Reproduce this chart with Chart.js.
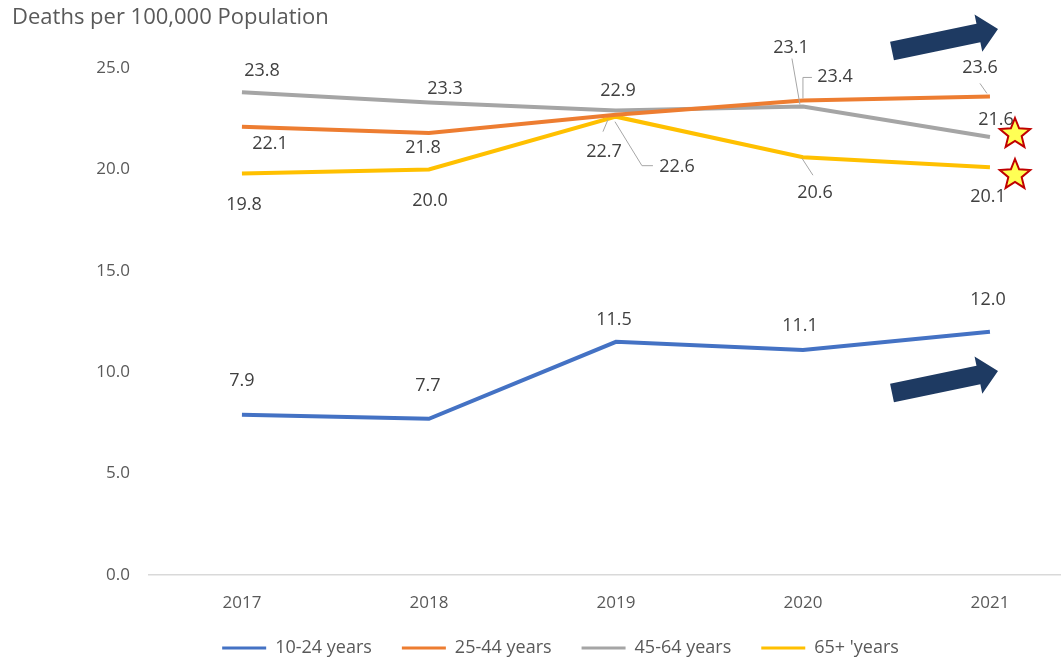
<!DOCTYPE html>
<html lang="en">
<head>
<meta charset="UTF-8">
<title>Deaths per 100,000 Population</title>
<script src="https://cdn.jsdelivr.net/npm/chart.js"></script>
<style>
  body { margin: 0; background: #fff; }
  canvas { display: block; }
</style>
</head>
<body>
<canvas id="chart" width="1061" height="659"></canvas>
<script>
// data
const years = [2017, 2018, 2019, 2020, 2021];
const ages10to24 = [7.9, 7.7, 11.5, 11.1, 12.0];
const ages25to44 = [22.1, 21.8, 22.7, 23.4, 23.6];
const ages45to64 = [23.8, 23.3, 22.9, 23.1, 21.6];
const ages65plus = [19.8, 20.0, 22.6, 20.6, 20.1];
const seriesNames = ['10-24 years', '25-44 years', '45-64 years', "65+ 'years"];
const yTicks = [0, 5, 10, 15, 20, 25];
const yTitle = 'Deaths per 100,000 Population';

const colors = ['#4472c4', '#ed7d31', '#a5a5a5', '#ffc000'];
const allSeries = [ages10to24, ages25to44, ages45to64, ages65plus];

// where each value label sits, relative to its point (px)
const labelOffsets = [
  [[0, -34], [-1, -33], [-2, -22], [-3, -24], [-2, -32]],
  [[28, 17], [-6, 15], [-12, 37], [32, -24], [-10, -29]],
  [[20, -21], [16, -14], [2, -20], [-12, -59], [6, -17]],
  [[2, 31], [1, 31], [61, 50], [12, 36], [-2, 30]]
];
// small leader lines, relative to the point
const leaders = [
  { ds: 1, i: 2, path: [[-8, 5], [-13, 17]] },
  { ds: 3, i: 2, path: [[-1, 5], [26, 49], [37, 49]] },
  { ds: 2, i: 3, path: [[-11, -48], [-3, -2]] },
  { ds: 1, i: 3, path: [[0, -2], [0, -23], [9, -23]] },
  { ds: 3, i: 3, path: [[-1, 1], [10, 18]] },
  { ds: 1, i: 4, path: [[-10, -13], [-3, -3]] }
];

function drawArrow(ctx, x0, y0, x1, y1, shaft, headW, headL) {
  const len = Math.hypot(x1 - x0, y1 - y0);
  const ux = (x1 - x0) / len, uy = (y1 - y0) / len;
  const nx = -uy, ny = ux;
  const bx = x1 - ux * headL, by = y1 - uy * headL;
  ctx.beginPath();
  ctx.moveTo(x0 + nx * shaft / 2, y0 + ny * shaft / 2);
  ctx.lineTo(bx + nx * shaft / 2, by + ny * shaft / 2);
  ctx.lineTo(bx + nx * headW / 2, by + ny * headW / 2);
  ctx.lineTo(x1, y1);
  ctx.lineTo(bx - nx * headW / 2, by - ny * headW / 2);
  ctx.lineTo(bx - nx * shaft / 2, by - ny * shaft / 2);
  ctx.lineTo(x0 - nx * shaft / 2, y0 - ny * shaft / 2);
  ctx.closePath();
  ctx.fill();
}

function drawStar(ctx, cx, cy, R, r) {
  ctx.beginPath();
  for (let k = 0; k < 10; k++) {
    const a = -Math.PI / 2 + k * Math.PI / 5;
    const rad = k % 2 ? r : R;
    const px = cx + Math.cos(a) * rad, py = cy + Math.sin(a) * rad;
    k ? ctx.lineTo(px, py) : ctx.moveTo(px, py);
  }
  ctx.closePath();
  ctx.fill();
  ctx.stroke();
}

const overlay = {
  id: 'overlay',
  afterDatasetsDraw(chart) {
    const ctx = chart.ctx;
    ctx.save();

    // leader lines
    ctx.strokeStyle = '#a6a6a6';
    ctx.lineWidth = 1;
    leaders.forEach(l => {
      const pt = chart.getDatasetMeta(l.ds).data[l.i];
      ctx.beginPath();
      l.path.forEach(([dx, dy], k) => k ? ctx.lineTo(pt.x + dx, pt.y + dy) : ctx.moveTo(pt.x + dx, pt.y + dy));
      ctx.stroke();
    });

    // value labels
    ctx.font = '18px "Open Sans"';
    ctx.fillStyle = '#404040';
    ctx.textAlign = 'center';
    ctx.textBaseline = 'middle';
    chart.data.datasets.forEach((ds, d) => {
      chart.getDatasetMeta(d).data.forEach((pt, i) => {
        const [dx, dy] = labelOffsets[d][i];
        ctx.fillText(ds.data[i].y.toFixed(1), pt.x + dx, pt.y + dy);
      });
    });

    // axis title top-left
    ctx.font = '22px "Open Sans"';
    ctx.fillStyle = '#595959';
    ctx.textAlign = 'left';
    ctx.fillText(yTitle, 12, 18);

    // arrows
    ctx.fillStyle = '#1e3a62';
    drawArrow(ctx, 892, 51, 998, 29, 19, 38, 20);
    drawArrow(ctx, 892, 393, 998, 371, 19, 38, 20);

    // stars
    ctx.fillStyle = '#ffff55';
    ctx.strokeStyle = '#c00000';
    ctx.lineWidth = 2;
    drawStar(ctx, 1015, 134, 16, 7);
    drawStar(ctx, 1015, 175, 16, 7);

    ctx.restore();
  }
};

new Chart(document.getElementById('chart'), {
  type: 'line',
  data: {
    datasets: allSeries.map((vals, s) => ({
      label: seriesNames[s],
      data: years.map((yr, i) => ({ x: yr, y: vals[i] })),
      borderColor: colors[s],
      backgroundColor: colors[s],
      borderWidth: 4,
      pointRadius: 0,
      tension: 0,
      fill: false
    }))
  },
  options: {
    responsive: false,
    animation: false,
    layout: { padding: { left: 60, top: 68, right: 0, bottom: -8 } },
    scales: {
      x: {
        type: 'linear',
        min: 2016.503,
        max: 2021.38,
        grid: { display: false, drawTicks: false },
        border: { display: true, color: '#d9d9d9', width: 1.5 },
        afterBuildTicks: scale => { scale.ticks = years.map(v => ({ value: v })); },
        afterFit: scale => { scale.height = 34; },
        ticks: {
          padding: 18,
          color: '#595959',
          font: { family: '"Open Sans"', size: 17 },
          callback: v => String(v)
        }
      },
      y: {
        min: 0,
        max: 25,
        grid: { display: false, drawTicks: false },
        border: { display: false },
        afterBuildTicks: scale => { scale.ticks = yTicks.map(v => ({ value: v })); },
        afterFit: scale => { scale.width = 89; },
        ticks: {
          padding: 19,
          color: '#595959',
          font: { family: '"Open Sans"', size: 17 },
          callback: v => v.toFixed(1)
        }
      }
    },
    plugins: {
      legend: {
        position: 'bottom',
        labels: {
          boxWidth: 44,
          boxHeight: 3,
          padding: 30,
          color: '#595959',
          font: { family: '"Open Sans"', size: 18 },
          generateLabels: chart => Chart.defaults.plugins.legend.labels.generateLabels(chart)
            .map(item => Object.assign(item, { lineWidth: 0, fillStyle: colors[item.datasetIndex] }))
        }
      },
      tooltip: { enabled: false },
      title: { display: false }
    }
  },
  plugins: [overlay]
});
</script>
</body>
</html>
